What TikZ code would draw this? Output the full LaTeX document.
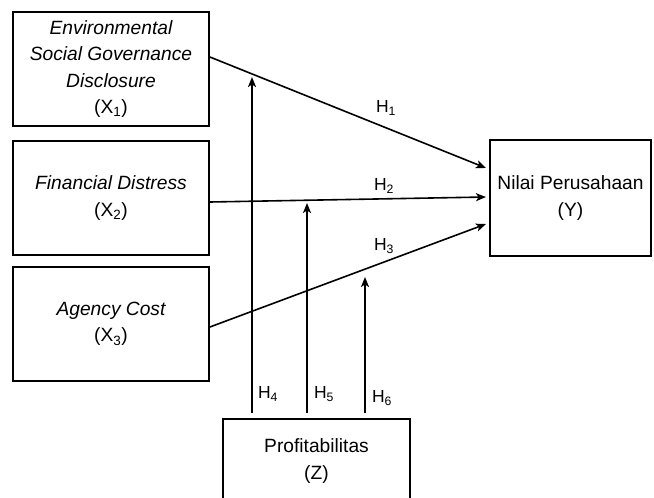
\documentclass[tikz,border=0pt]{standalone}
\usepackage{fontspec}
\setmainfont{Liberation Sans}
\usetikzlibrary{arrows.meta,calc}
\begin{document}
\begin{tikzpicture}[x=1pt,y=-1pt,
  box/.style={draw,line width=1.8pt,inner sep=0pt,align=center,font=\fontsize{19.2}{26.5}\selectfont},
  conn/.style={line width=1.6pt,-{Stealth[length=10pt,width=8pt,inset=2.5pt]}},
  hlab/.style={font=\fontsize{17.5}{20}\selectfont,inner sep=0pt}]
\useasboundingbox (0,0) rectangle (654,498);
\node[box,minimum width=196pt,minimum height=114pt] (X1) at (111,69)
  {\itshape Environmental\\\itshape Social Governance\\\itshape Disclosure\\(X\textsubscript{1})};
\node[box,minimum width=196pt,minimum height=114pt] (X2) at (111,198)
  {\itshape Financial Distress\\(X\textsubscript{2})};
\node[box,minimum width=196pt,minimum height=114pt] (X3) at (111,324)
  {\itshape Agency Cost\\(X\textsubscript{3})};
\node[box,minimum width=161pt,minimum height=116pt] (Y) at (570.5,198)
  {Nilai Perusahaan\\(Y)};
\node[box,minimum width=187pt,minimum height=84pt] (Z) at (316.5,461)
  {Profitabilitas\\(Z)};
% endpoints
\coordinate (a1) at ($(X1.east)+(0,-12)$);
\coordinate (b1) at (486,168);
\coordinate (a2) at ($(X2.east)+(0,4)$);
\coordinate (b2) at (486,197);
\coordinate (a3) at ($(X3.east)+(0,3)$);
\coordinate (b3) at (486,224);
\draw[conn] (a1) -- (b1);
\draw[conn] (a2) -- (b2);
\draw[conn] (a3) -- (b3);
\coordinate (s4) at (252,413);
\coordinate (t4) at (252,77);
\coordinate (s5) at (307,413);
\coordinate (t5) at (307,203);
\coordinate (s6) at (365,413);
\coordinate (t6) at (365,277);
\draw[conn] (s4) -- (t4);
\draw[conn] (s5) -- (t5);
\draw[conn] (s6) -- (t6);
\node[hlab] (h1) at (386,108) {H\textsubscript{1}};
\node[hlab] (h2) at (384,186) {H\textsubscript{2}};
\node[hlab] (h3) at (384,246) {H\textsubscript{3}};
\node[hlab] (h4) at (268,394) {H\textsubscript{4}};
\node[hlab] (h5) at (324,394) {H\textsubscript{5}};
\node[hlab] (h6) at (382,398) {H\textsubscript{6}};
\end{tikzpicture}
\end{document}
